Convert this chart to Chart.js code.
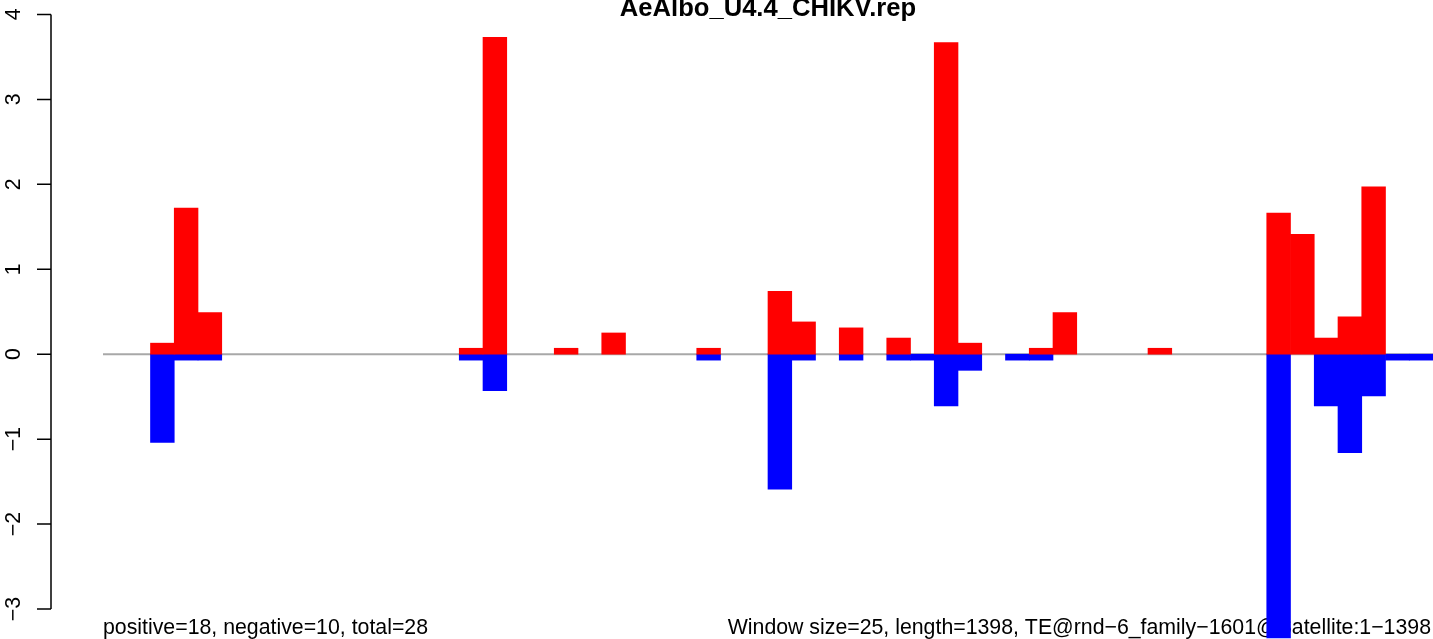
<!DOCTYPE html>
<html>
<head>
<meta charset="utf-8">
<script src="https://cdn.jsdelivr.net/npm/chart.js@4/dist/chart.umd.min.js"></script>
<style>
  body { margin: 0; background: #fff; }
  #wrap { width: 1433px; height: 639px; position: relative; }
</style>
</head>
<body>
<div id="wrap"><canvas id="graph"></canvas></div>
<script>
// window index (25 nt each) -> value
var windowSize = 25
var windowCount = 56
var posWindows = [2, 3, 4, 15, 16, 19, 21, 25, 28, 29, 31, 33, 35, 36, 39, 40, 44, 49, 50, 51, 52, 53]
var posValues = [0.13, 1.72, 0.49, 0.07, 3.73, 0.07, 0.25, 0.07, 0.74, 0.38, 0.31, 0.19, 3.67, 0.13, 0.07, 0.49, 0.07, 1.66, 1.41, 0.19, 0.44, 1.97]
var negWindows = [2, 3, 4, 15, 16, 25, 28, 29, 31, 33, 34, 35, 36, 38, 39, 49, 51, 52, 53, 54, 55]
var negValues = [-1.04, -0.07, -0.07, -0.07, -0.43, -0.07, -1.59, -0.07, -0.07, -0.07, -0.07, -0.61, -0.19, -0.07, -0.07, -3.34, -0.61, -1.16, -0.49, -0.07, -0.07]
var yTicks = [-3, -2, -1, 0, 1, 2, 3, 4]

var titleText = 'AeAlbo_U4.4_CHIKV.rep'
var leftNote = 'positive=18, negative=10, total=28'
var rightNote = 'Window size=25, length=1398, TE@rnd\u22126_family\u22121601@Satellite:1\u22121398'

function buildSeries(windows, values) {
    var out = []
    for (var i = 0; i < windowCount; i++) {
        var k = windows.indexOf(i)
        out.push({ x: i * windowSize + windowSize / 2, y: k >= 0 ? values[k] : null })
    }
    return out
}

var font = '"Liberation Sans", Arial, Helvetica, sans-serif'

var decorPlugin = {
    id: 'decor',
    beforeDatasetsDraw: function (chart) {
        var ctx = chart.ctx
        var xs = chart.scales.x
        var ys = chart.scales.y
        ctx.save()
        // zero line
        var y0 = ys.getPixelForValue(0)
        ctx.strokeStyle = '#a8a8a8'
        ctx.lineWidth = 2
        ctx.beginPath()
        ctx.moveTo(xs.getPixelForValue(0), y0)
        ctx.lineTo(xs.getPixelForValue(windowCount * windowSize), y0)
        ctx.stroke()

        // y axis
        var axX = 51
        ctx.strokeStyle = '#000'
        ctx.lineWidth = 1.5
        ctx.beginPath()
        ctx.moveTo(axX, ys.getPixelForValue(yTicks[0]))
        ctx.lineTo(axX, ys.getPixelForValue(yTicks[yTicks.length - 1]))
        yTicks.forEach(function (t) {
            var py = ys.getPixelForValue(t)
            ctx.moveTo(axX, py)
            ctx.lineTo(37, py)
        })
        ctx.stroke()

        ctx.fillStyle = '#000'
        ctx.font = '21.3px ' + font
        ctx.textAlign = 'center'
        ctx.textBaseline = 'alphabetic'
        yTicks.forEach(function (t) {
            var py = ys.getPixelForValue(t)
            ctx.save()
            ctx.translate(20, py)
            ctx.rotate(-Math.PI / 2)
            ctx.fillText(t < 0 ? '\u2212' + (-t) : String(t), 0, 0)
            ctx.restore()
        })

        // notes at the bottom
        ctx.textAlign = 'left'
        ctx.fillText(leftNote, 103, 634)
        ctx.textAlign = 'right'
        ctx.fillText(rightNote, 1431, 634)

        // title, cut at the top
        ctx.font = 'bold 25.6px ' + font
        ctx.textAlign = 'center'
        ctx.fillText(titleText, 768, 16)
        ctx.restore()
    }
}

var chart = new Chart(document.getElementById('graph').getContext('2d'), {
    type: 'bar',
    data: {
        datasets: [{
            label: 'positive',
            data: buildSeries(posWindows, posValues),
            backgroundColor: '#ff0000',
            borderWidth: 0,
            grouped: false,
            barPercentage: 1,
            categoryPercentage: 1
        }, {
            label: 'negative',
            data: buildSeries(negWindows, negValues),
            backgroundColor: '#0000ff',
            borderWidth: 0,
            grouped: false,
            barPercentage: 1,
            categoryPercentage: 1
        }]
    },
    options: {
        responsive: true,
        maintainAspectRatio: false,
        animation: false,
        layout: { padding: { left: 51, right: 0, top: 0, bottom: 0 } },
        plugins: { legend: { display: false }, tooltip: { enabled: false } },
        scales: {
            x: { type: 'linear', offset: false, min: -54.74, max: 1400, display: false },
            y: { min: -3.353, max: 4.17, display: false }
        }
    },
    plugins: [decorPlugin]
})
</script>
</body>
</html>
